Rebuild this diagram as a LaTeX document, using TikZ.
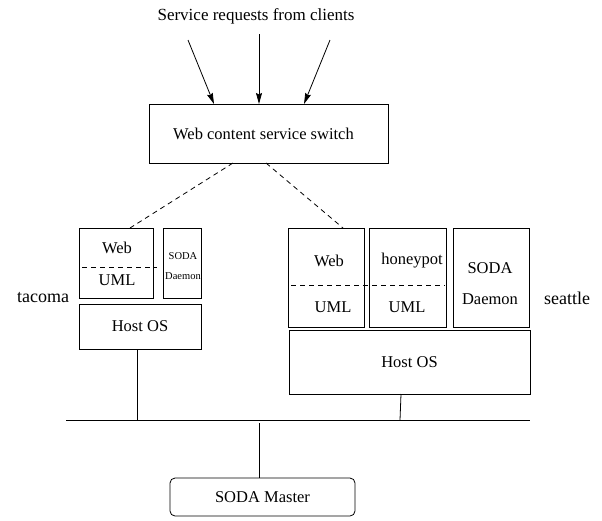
\documentclass[tikz,border=0pt]{standalone}
\usepackage{fontspec}
\setmainfont{Liberation Serif}
\usetikzlibrary{arrows.meta}
\begin{document}
\begin{tikzpicture}[x=1pt,y=-1pt,
  box/.style={draw,line width=0.8pt,inner sep=0pt,anchor=center},
  lbl/.style={inner sep=0pt,anchor=center,font=\fontsize{16.5}{18}\selectfont},
  slbl/.style={inner sep=0pt,anchor=center,font=\fontsize{10.5}{12}\selectfont},
  conn/.style={line width=0.8pt},
  dconn/.style={line width=0.8pt,dash pattern=on 5pt off 4pt},
  req/.style={line width=0.8pt,-{Stealth[length=11pt,width=6pt,inset=1.5pt]}}]
\useasboundingbox (0,0) rectangle (602,520);
% title
\node[lbl,font=\fontsize{17}{19}\selectfont] (title) at (256,16) {Service requests from clients};
% switch
\node[box,minimum width=239pt,minimum height=59pt,font=\fontsize{16.5}{18}\selectfont] (switch) at (268.5,133.5) {\hspace*{-10pt}Web content service switch};
\coordinate (r1s) at (188,40);
\coordinate (r2s) at (259,34);
\coordinate (r3s) at (330,40);
\coordinate (r1e) at (214,104);
\coordinate (r2e) at (259,104);
\coordinate (r3e) at (304,104);
\draw[req] (r1s) -- (r1e);
\draw[req] (r2s) -- (r2e);
\draw[req] (r3s) -- (r3e);
% tacoma
\node[box,minimum width=74pt,minimum height=70pt] (tweb) at (116,263) {};
\node[box,minimum width=38pt,minimum height=70pt] (tsoda) at (182,263) {};
\node[box,minimum width=122pt,minimum height=45pt,font=\fontsize{16.5}{18}\selectfont] (thost) at (140,326.5) {Host OS};
\node[lbl] (twebt) at (117,248) {Web};
\node[lbl] (tumlt) at (117,280) {UML};
\node[slbl] (tsodat) at (183,256) {SODA};
\node[slbl] (tdaet) at (183,276) {Daemon};
\node[lbl,font=\fontsize{18}{20}\selectfont] (tacoma) at (43,298) {tacoma};
\coordinate (tdl) at (82,267);
\coordinate (tdr) at (157,267);
\draw[dconn] (tdl) -- (tdr);
% seattle
\node[box,minimum width=76pt,minimum height=99pt] (sweb) at (326,277.5) {};
\node[box,minimum width=77pt,minimum height=99pt] (shoney) at (407.5,277.5) {};
\node[box,minimum width=76pt,minimum height=99pt] (ssoda) at (491,277.5) {};
\node[box,minimum width=241pt,minimum height=64pt,font=\fontsize{16.5}{18}\selectfont] (shost) at (409.5,362) {Host OS};
\node[lbl] (swebt) at (329,261) {Web};
\node[lbl] (sumlt) at (333,307) {UML};
\node[lbl] (shont) at (412,261) {honeypot};
\node[lbl] (shumlt) at (407,307) {UML};
\node[lbl] (ssodat) at (490,268) {SODA};
\node[lbl] (sdaet) at (490,299) {Daemon};
\node[lbl,font=\fontsize{18}{20}\selectfont] (seattle) at (567,298) {seattle};
\coordinate (sdl) at (291,285);
\coordinate (sdr) at (445,285);
\draw[dconn] (sdl) -- (sdr);
% dashed links from switch
\coordinate (swl) at (233,163);
\coordinate (swr) at (266,163);
\coordinate (twt) at (130,228);
\coordinate (swt) at (343,228);
\draw[dconn] (swl) -- (twt);
\draw[dconn] (swr) -- (swt);
% bus
\coordinate (busL) at (66,420);
\coordinate (busR) at (530,420);
\draw[conn] (busL) -- (busR);
\coordinate (tbus) at (137,420);
\coordinate (thb) at (137,349);
\draw[conn] (thb) -- (tbus);
\coordinate (sbus) at (400,420);
\coordinate (shb) at (401,394);
\draw[conn] (shb) -- (sbus);
% master
\node[box,rounded corners=5pt,minimum width=185pt,minimum height=38pt,font=\fontsize{16.5}{18}\selectfont] (master) at (262.5,497) {SODA Master};
\coordinate (mbus) at (259,423);
\coordinate (mtop) at (259,478);
\draw[conn] (mbus) -- (mtop);
\end{tikzpicture}
\end{document}
